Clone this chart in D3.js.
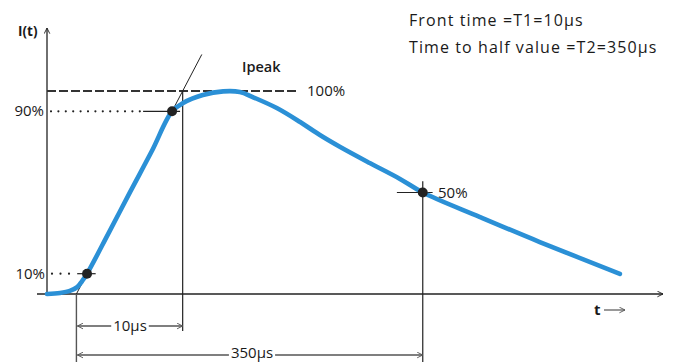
<!DOCTYPE html>
<html>
<head>
<meta charset="utf-8">
<script src="https://cdn.jsdelivr.net/npm/d3@7"></script>
<style>
  html, body { margin: 0; padding: 0; background: #fff; }
  svg { display: block; }
  text { font-family: "Open Sans", Lato, sans-serif; fill: #1a1a1a; }
</style>
</head>
<body>
<script>
// Impulse current waveform I(t): time (relative units) and current (% of peak)
const waveTime = [0, 2.1, 3.7, 4.9, 5.7, 6.5, 10.0, 13.5, 17.0, 20.3, 22.1, 25.3, 28.6, 31.3, 33.4, 37.3, 41.1, 44.3, 47.6, 52.4, 57.3, 61.0, 70.3, 80.0, 93.0];
const waveCurrent = [0, 0.5, 1.5, 3.4, 6.4, 10, 30.0, 50.3, 70.3, 90, 94.1, 98.0, 99.8, 99.5, 97.0, 91.6, 84.7, 78.3, 72.4, 64.5, 56.7, 50, 37.9, 25.6, 9.9];

// Reference levels (% of peak) and the times where the wave crosses them
const levelNames = ["10%", "90%", "100%", "50%"];
const levelValues = [10, 90, 100, 50];
const markerTimes = [6.5, 20.3, 61.0]; // 10% rise, 90% rise, 50% tail
const markerLevels = [10, 90, 50];

// Annotation texts
const headerLines = ["Front time =T1=10μs", "Time to half value =T2=350μs"];
const frontLabel = "10μs";
const tailLabel = "350μs";
const peakLabel = "Ipeak";
const yTitle = "I(t)";
const xTitle = "t";
const tangentTop = 118; // extension of the front tangent, % of peak

const W = 679, H = 362;
const svg = d3.select("body").append("svg").attr("width", W).attr("height", H);

const x = d3.scaleLinear().domain([0, 100]).range([47, 663]);
const y = d3.scaleLinear().domain([0, 100]).range([294, 91]);

const ink = "#222";
const dimInk = "#555";
const blue = "#2b90d6";

// arrow heads
const defs = svg.append("defs");
function chevron(id, color, dir) {
  const m = defs.append("marker").attr("id", id)
    .attr("viewBox", "0 0 10 10").attr("refX", dir > 0 ? 9 : 1).attr("refY", 5)
    .attr("markerWidth", 7).attr("markerHeight", 7).attr("markerUnits", "userSpaceOnUse")
    .attr("orient", "auto");
  m.append("path").attr("d", dir > 0 ? "M1,1 L9,5 L1,9" : "M9,1 L1,5 L9,9")
    .attr("fill", "none").attr("stroke", color).attr("stroke-width", 1.3);
}
chevron("arrEnd", dimInk, 1);
chevron("arrStart", dimInk, -1);
chevron("axEnd", ink, 1);

// axes
svg.append("line")
  .attr("x1", x(0) - 10).attr("x2", x(100)).attr("y1", y(0)).attr("y2", y(0))
  .attr("stroke", ink).attr("stroke-width", 1.3).attr("marker-end", "url(#axEnd)");
svg.append("line")
  .attr("x1", x(0)).attr("x2", x(0)).attr("y1", y(0)).attr("y2", y(131))
  .attr("stroke", ink).attr("stroke-width", 1.3).attr("marker-end", "url(#axEnd)");

svg.append("text").attr("x", 18).attr("y", 36).attr("font-size", 13.5).attr("font-weight", 700).text(yTitle);
svg.append("text").attr("x", 594).attr("y", 315).attr("font-size", 15).attr("font-weight", 700).text(xTitle);
svg.append("line").attr("x1", 604).attr("x2", 625).attr("y1", 310).attr("y2", 310)
  .attr("stroke", dimInk).attr("stroke-width", 1.2).attr("marker-end", "url(#arrEnd)");

// front tangent through the 10% and 90% points
const slope = (markerLevels[1] - markerLevels[0]) / (markerTimes[1] - markerTimes[0]);
const tAt = lvl => markerTimes[0] + (lvl - markerLevels[0]) / slope;
const t0 = tAt(0), t1 = tAt(100);

// 100% dashed line
svg.append("line")
  .attr("x1", x(0)).attr("x2", x(40.8)).attr("y1", y(100)).attr("y2", y(100))
  .attr("stroke", "#333").attr("stroke-width", 1.8).attr("stroke-dasharray", "9,3");

// dotted level lines
svg.append("line")
  .attr("x1", x(0) + 4).attr("x2", x(15.5)).attr("y1", y(90)).attr("y2", y(90))
  .attr("stroke", ink).attr("stroke-width", 2.2).attr("stroke-linecap", "round").attr("stroke-dasharray", "0,7.4");
svg.append("line")
  .attr("x1", x(0) + 5).attr("x2", x(4.3)).attr("y1", y(10)).attr("y2", y(10))
  .attr("stroke", ink).attr("stroke-width", 2.2).attr("stroke-linecap", "round").attr("stroke-dasharray", "0,8.5");

// short solid ticks across the marker points
svg.append("line").attr("x1", x(15.6)).attr("x2", x(21.6)).attr("y1", y(90)).attr("y2", y(90)).attr("stroke", ink).attr("stroke-width", 1.2);
svg.append("line").attr("x1", x(4.9)).attr("x2", x(7.9)).attr("y1", y(10)).attr("y2", y(10)).attr("stroke", ink).attr("stroke-width", 1.2);
svg.append("line").attr("x1", x(56.8)).attr("x2", x(62.6)).attr("y1", y(50)).attr("y2", y(50)).attr("stroke", ink).attr("stroke-width", 1.2);

// verticals
svg.append("line").attr("x1", x(t1)).attr("x2", x(t1)).attr("y1", y(100)).attr("y2", 331).attr("stroke", ink).attr("stroke-width", 1.2);
svg.append("line").attr("x1", x(t0)).attr("x2", x(t0)).attr("y1", y(0)).attr("y2", H).attr("stroke", dimInk).attr("stroke-width", 1.4);
svg.append("line").attr("x1", x(markerTimes[2])).attr("x2", x(markerTimes[2])).attr("y1", y(55.5)).attr("y2", H).attr("stroke", ink).attr("stroke-width", 1.2);

// tangent line
svg.append("line")
  .attr("x1", x(t0)).attr("y1", y(0)).attr("x2", x(tAt(tangentTop))).attr("y2", y(tangentTop))
  .attr("stroke", ink).attr("stroke-width", 1);

// waveform
const wave = waveTime.map((t, i) => [t, waveCurrent[i]]);
svg.append("path").datum(wave)
  .attr("d", d3.line().x(d => x(d[0])).y(d => y(d[1])).curve(d3.curveCatmullRom.alpha(0.5)))
  .attr("fill", "none").attr("stroke", blue).attr("stroke-width", 4.6).attr("stroke-linecap", "round");

// marker dots
svg.selectAll("circle.mk").data(markerTimes).join("circle")
  .attr("class", "mk").attr("cx", d => x(d)).attr("cy", (d, i) => y(markerLevels[i]))
  .attr("r", 5).attr("fill", ink);

// level labels
svg.append("text").attr("x", 44).attr("y", y(90) + 5).attr("text-anchor", "end").attr("font-size", 15).text(levelNames[1]);
svg.append("text").attr("x", 45).attr("y", y(10) + 5).attr("text-anchor", "end").attr("font-size", 15).text(levelNames[0]);
svg.append("text").attr("x", 307).attr("y", y(100) + 5).attr("font-size", 15).text(levelNames[2]);
svg.append("text").attr("x", 438).attr("y", y(50) + 5).attr("font-size", 15).text(levelNames[3]);
svg.append("text").attr("x", 242).attr("y", 72).attr("font-size", 14.5).attr("font-weight", 600).text(peakLabel);

// dimension lines
function dimension(tA, tB, yy, label, cx, base) {
  svg.append("line").attr("x1", x(tA) + 1).attr("x2", x(tB)).attr("y1", yy).attr("y2", yy)
    .attr("stroke", dimInk).attr("stroke-width", 1.3)
    .attr("marker-start", "url(#arrStart)").attr("marker-end", "url(#arrEnd)");
  const bg = svg.append("rect").attr("fill", "#fff");
  const t = svg.append("text").attr("x", cx).attr("y", base).attr("text-anchor", "middle")
    .attr("font-size", 15).text(label);
  const bb = t.node().getBBox();
  bg.attr("x", bb.x - 2).attr("y", yy - 4).attr("width", bb.width + 4).attr("height", 8);
}
dimension(t0, t1, 326, frontLabel, 130, 331);
dimension(t0, markerTimes[2], 355, tailLabel, 252, 358);

// header
svg.selectAll("text.hd").data(headerLines).join("text")
  .attr("class", "hd").attr("x", 409).attr("y", (d, i) => 26 + i * 27)
  .attr("font-size", 16).attr("letter-spacing", 1.1).attr("fill", "#333").text(d => d);
</script>
</body>
</html>
